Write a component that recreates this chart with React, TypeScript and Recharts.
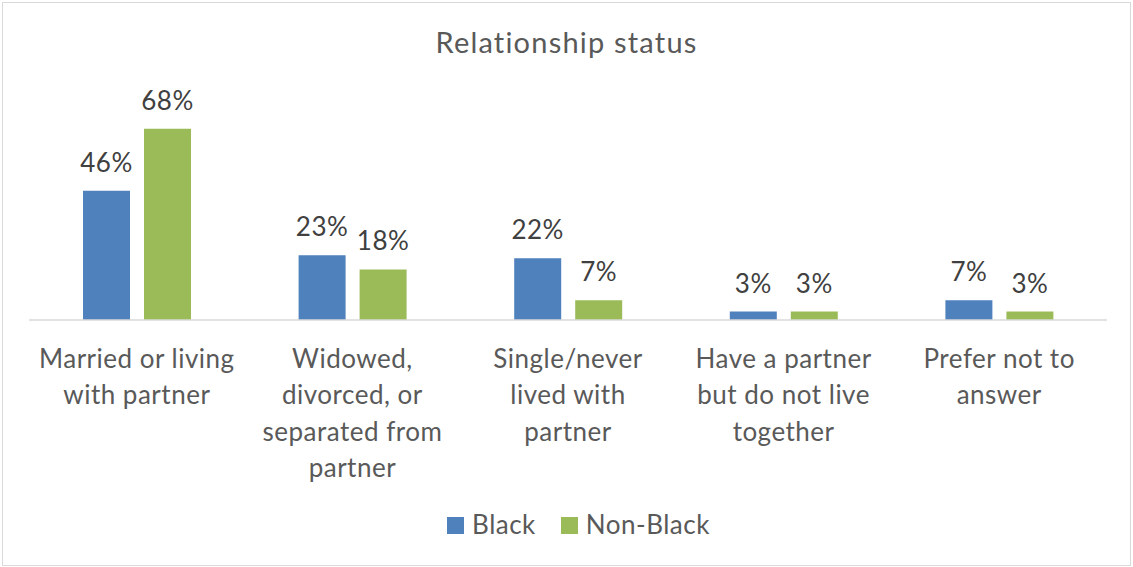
import React from "react";
import { BarChart, Bar, XAxis, YAxis, LabelList } from "recharts";

const categories = [
  "Married or living with partner",
  "Widowed, divorced, or separated from partner",
  "Single/never lived with partner",
  "Have a partner but do not live together",
  "Prefer not to answer",
];
const categoryLines = [
  ["Married or living", "with partner"],
  ["Widowed,", "divorced, or", "separated from", "partner"],
  ["Single/never", "lived with", "partner"],
  ["Have a partner", "but do not live", "together"],
  ["Prefer not to", "answer"],
];
const blackValues = [46, 23, 22, 3, 7];
const nonBlackValues = [68, 18, 7, 3, 3];
const seriesNames = ["Black", "Non-Black"];
const title = "Relationship status";

const BLUE = "#4F81BD";
const GREEN = "#9BBB59";
const TEXT = "#404040";
const AXIS_TEXT = "#595959";
const FONT = "Lato, 'Open Sans', sans-serif";

const data = categories.map((c, i) => ({
  name: c,
  black: blackValues[i],
  nonBlack: nonBlackValues[i],
}));

const Tick = (props: any) => {
  const { x, y, payload } = props;
  const idx = categories.indexOf(payload.value);
  const lines = idx >= 0 ? categoryLines[idx] : [String(payload.value)];
  return (
    <g>
      {lines.map((l, i) => (
        <text
          key={i}
          x={x}
          y={y + 40 + i * 36.3}
          textAnchor="middle"
          fill={AXIS_TEXT}
          fontSize={26}
          letterSpacing={0.5}
          fontFamily={FONT}
        >
          {l}
        </text>
      ))}
    </g>
  );
};

const fmt = (v: any) => `${v}%`;

export default function App() {
  return (
    <div style={{ position: "absolute", left: 0, top: 0, width: 1133, height: 567, background: "#fff" }}>
      <div
        style={{
          position: "absolute",
          left: 2,
          top: 2,
          width: 1129,
          height: 564,
          border: "1px solid #d9d9d9",
          boxSizing: "border-box",
        }}
      />
      <div
        style={{
          position: "absolute",
          left: 0,
          top: 25,
          width: 1133,
          textAlign: "center",
          fontFamily: FONT,
          fontSize: 29,
          letterSpacing: 1.2,
          color: AXIS_TEXT,
          lineHeight: "34px",
        }}
      >
        {title}
      </div>
      <div style={{ position: "absolute", left: 0, top: 0 }}>
        <BarChart
          width={1133}
          height={567}
          data={data}
          margin={{ top: 95, right: 26, bottom: 0, left: 29 }}
          barSize={47}
          barGap={14}
        >
          <XAxis
            dataKey="name"
            axisLine={{ stroke: "#d9d9d9", strokeWidth: 1.5 }}
            tickLine={false}
            tick={<Tick />}
            interval={0}
            height={247}
          />
          <YAxis hide domain={[0, 80]} />
          <Bar dataKey="black" fill={BLUE} isAnimationActive={false}>
            <LabelList
              dataKey="black"
              position="top"
              offset={19}
              formatter={fmt}
              fill={TEXT}
              fontSize={26}
              letterSpacing={0.5}
              fontFamily={FONT}
            />
          </Bar>
          <Bar dataKey="nonBlack" fill={GREEN} isAnimationActive={false}>
            <LabelList
              dataKey="nonBlack"
              position="top"
              offset={19}
              formatter={fmt}
              fill={TEXT}
              fontSize={26}
              letterSpacing={0.5}
              fontFamily={FONT}
            />
          </Bar>
        </BarChart>
      </div>
      <div
        style={{
          position: "absolute",
          left: 12,
          top: 509,
          width: 1133,
          display: "flex",
          justifyContent: "center",
          alignItems: "center",
          fontFamily: FONT,
          fontSize: 26,
          letterSpacing: 0.5,
          color: AXIS_TEXT,
          lineHeight: "30px",
        }}
      >
        {seriesNames.map((n, i) => (
          <div key={n} style={{ display: "flex", alignItems: "center", marginLeft: i === 0 ? 0 : 25 }}>
            <span
              style={{
                display: "inline-block",
                width: 17,
                height: 17,
                background: i === 0 ? BLUE : GREEN,
                marginRight: 8,
                marginTop: 2,
              }}
            />
            <span>{n}</span>
          </div>
        ))}
      </div>
    </div>
  );
}
